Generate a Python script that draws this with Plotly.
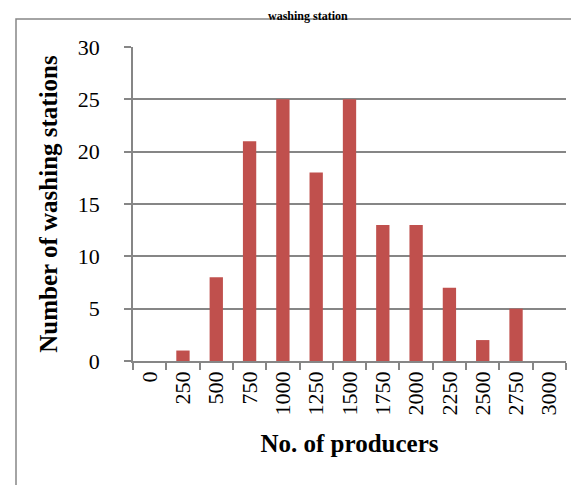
import plotly.graph_objects as go

categories = ["0", "250", "500", "750", "1000", "1250", "1500", "1750", "2000", "2250", "2500", "2750", "3000"]
stations = [0, 1, 8, 21, 25, 18, 25, 13, 13, 7, 2, 5, 0]
y_ticks = [0, 5, 10, 15, 20, 25, 30]

W, H = 579, 485
L, R, T, B = 125, 21, 39, 132
pw, ph = W - L - R, H - T - B

def px_x(x):
    return (x - L) / pw

def px_y(y):
    return (H - B - y) / ph

FONT = "Liberation Serif, Times New Roman, serif"
GRAY = "#868686"

fig = go.Figure(go.Bar(x=categories, y=stations, marker=dict(color="#C0504D", line=dict(width=0))))

fig.update_layout(
    width=W, height=H,
    margin=dict(l=L, r=R, t=T, b=B, autoexpand=False),
    paper_bgcolor="white", plot_bgcolor="white",
    bargap=0.6,
    showlegend=False,
    font=dict(family=FONT, size=22, color="black"),
    xaxis=dict(
        type="category", tickangle=-90, showgrid=False,
        showline=True, linecolor=GRAY, linewidth=1.5,
        ticks="outside", ticklen=7, tickcolor=GRAY, tickwidth=1.5,
        tickson="boundaries", ticklabelstandoff=0,
        tickfont=dict(family=FONT, size=22),
        title=dict(text="<b>No. of producers</b>", font=dict(family=FONT, size=25), standoff=20),
    ),
    yaxis=dict(
        range=[0, 30], tickvals=y_ticks, showgrid=True, gridcolor=GRAY, gridwidth=1.5,
        showline=True, linecolor=GRAY, linewidth=1.5,
        ticks="outside", ticklen=7, tickcolor=GRAY, tickwidth=1.5,
        ticklabelstandoff=20,
        tickfont=dict(family=FONT, size=22),
        zeroline=False,
        title=dict(text="<b>Number of washing stations</b>", font=dict(family=FONT, size=25), standoff=13),
    ),
    shapes=[dict(type="rect", xref="paper", yref="paper",
                 x0=px_x(8), x1=px_x(W + 20), y0=px_y(H + 20), y1=px_y(11),
                 line=dict(color=GRAY, width=1.5), fillcolor="rgba(0,0,0,0)", layer="below")],
    annotations=[dict(text="<b>washing station</b>", xref="paper", yref="paper",
                      x=px_x(300), y=px_y(0), xanchor="center", yanchor="top",
                      borderpad=0, showarrow=False, font=dict(family=FONT, size=12))],
)

fig.write_html("out.html")
